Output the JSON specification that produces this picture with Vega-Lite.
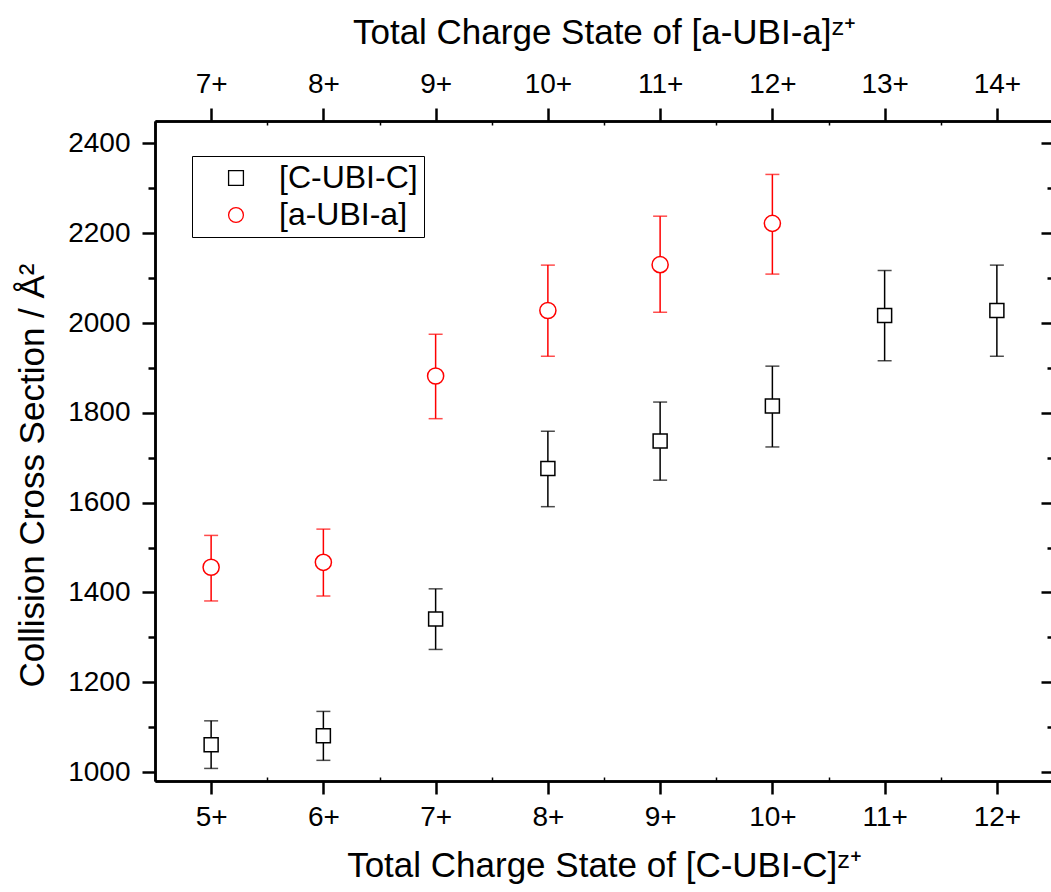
{
  "$schema": "https://vega.github.io/schema/vega-lite/v6.json",
  "width": 898,
  "height": 660,
  "autosize": "none",
  "padding": {"left": 155, "top": 121, "right": 0, "bottom": 111},
  "background": "white",
  "data": {
    "values": [
      {"series": "[C-UBI-C]", "z": 5, "ccs": 1061, "lo": 1008, "hi": 1114},
      {"series": "[C-UBI-C]", "z": 6, "ccs": 1081, "lo": 1026, "hi": 1135},
      {"series": "[C-UBI-C]", "z": 7, "ccs": 1341, "lo": 1273, "hi": 1408},
      {"series": "[C-UBI-C]", "z": 8, "ccs": 1676, "lo": 1591, "hi": 1759},
      {"series": "[C-UBI-C]", "z": 9, "ccs": 1737, "lo": 1650, "hi": 1824},
      {"series": "[C-UBI-C]", "z": 10, "ccs": 1815, "lo": 1724, "hi": 1904},
      {"series": "[C-UBI-C]", "z": 11, "ccs": 2017, "lo": 1916, "hi": 2117},
      {"series": "[C-UBI-C]", "z": 12, "ccs": 2028, "lo": 1926, "hi": 2129},
      {"series": "[a-UBI-a]", "z": 5, "ccs": 1456, "lo": 1381, "hi": 1527},
      {"series": "[a-UBI-a]", "z": 6, "ccs": 1467, "lo": 1392, "hi": 1541},
      {"series": "[a-UBI-a]", "z": 7, "ccs": 1882, "lo": 1787, "hi": 1975},
      {"series": "[a-UBI-a]", "z": 8, "ccs": 2028, "lo": 1926, "hi": 2129},
      {"series": "[a-UBI-a]", "z": 9, "ccs": 2130, "lo": 2024, "hi": 2238},
      {"series": "[a-UBI-a]", "z": 10, "ccs": 2222, "lo": 2109, "hi": 2331}
    ]
  },
  "config": {
    "font": "Liberation Sans",
    "view": {"stroke": null},
    "axis": {
      "grid": false,
      "domainColor": "black",
      "domainWidth": 2.5,
      "tickColor": "black",
      "tickWidth": 2.5,
      "labelColor": "black",
      "titleColor": "black",
      "labelFont": "Liberation Sans",
      "titleFont": "Liberation Sans",
      "labelFontWeight": "normal",
      "titleFontWeight": "normal",
      "labelFontSize": 28,
      "titleFontSize": 35
    }
  },
  "resolve": {"axis": {"x": "independent", "y": "independent"}},
  "layer": [
    {
      "mark": {"type": "rule", "strokeWidth": 1.5},
      "encoding": {
        "x": {
          "field": "z", "type": "quantitative",
          "scale": {"domain": [4.5, 12.5], "nice": false, "zero": false},
          "axis": {
            "orient": "bottom", "values": [5, 6, 7, 8, 9, 10, 11, 12],
            "labelExpr": "datum.value + '+'", "tickSize": 13, "labelPadding": 9,
            "labelFontSize": 28, "titleFontSize": 35,
            "title": "Total Charge State of [C-UBI-C]ᶻ⁺", "titlePadding": 17
          }
        },
        "y": {
          "field": "lo", "type": "quantitative",
          "scale": {"domain": [980, 2450], "nice": false, "zero": false},
          "axis": {
            "orient": "left", "values": [1000, 1200, 1400, 1600, 1800, 2000, 2200, 2400],
            "format": "d", "tickSize": 13, "labelPadding": 12,
            "labelFontSize": 28, "titleFontSize": 35,
            "title": "Collision Cross Section / Å²", "titlePadding": 17, "titleY": 354
          }
        },
        "y2": {"field": "hi"},
        "color": {"condition": {"test": "datum.series === '[a-UBI-a]'", "value": "#ff0000"}, "value": "black"}
      }
    },
    {
      "mark": {"type": "tick", "orient": "horizontal", "size": 14, "thickness": 1.5},
      "encoding": {
        "x": {
          "field": "z", "type": "quantitative",
          "scale": {"domain": [4.5, 12.5], "nice": false, "zero": false},
          "axis": {
            "orient": "top", "values": [5, 6, 7, 8, 9, 10, 11, 12],
            "labelExpr": "(datum.value + 2) + '+'", "tickSize": 13, "labelPadding": 10,
            "labelFontSize": 28, "titleFontSize": 35,
            "title": "Total Charge State of [a-UBI-a]ᶻ⁺", "titlePadding": 20
          }
        },
        "y": {
          "field": "lo", "type": "quantitative",
          "scale": {"domain": [980, 2450], "nice": false, "zero": false},
          "axis": {
            "orient": "right", "values": [1000, 1200, 1400, 1600, 1800, 2000, 2200, 2400],
            "tickSize": -12, "labels": false, "title": null
          }
        },
        "color": {"condition": {"test": "datum.series === '[a-UBI-a]'", "value": "#ff0000"}, "value": "black"}
      }
    },
    {
      "mark": {"type": "tick", "orient": "horizontal", "size": 14, "thickness": 1.5},
      "encoding": {
        "x": {
          "field": "z", "type": "quantitative",
          "scale": {"domain": [4.5, 12.5], "nice": false, "zero": false},
          "axis": {
            "orient": "bottom", "values": [5.5, 6.5, 7.5, 8.5, 9.5, 10.5, 11.5],
            "tickSize": -4, "tickWidth": 1.5, "labels": false, "title": null
          }
        },
        "y": {
          "field": "hi", "type": "quantitative",
          "scale": {"domain": [980, 2450], "nice": false, "zero": false},
          "axis": {
            "orient": "left", "values": [1100, 1300, 1500, 1700, 1900, 2100, 2300],
            "tickSize": 7, "labels": false, "title": null
          }
        },
        "color": {"condition": {"test": "datum.series === '[a-UBI-a]'", "value": "#ff0000"}, "value": "black"}
      }
    },
    {
      "mark": {"type": "point", "filled": false, "fill": "white", "fillOpacity": 1, "opacity": 1, "strokeWidth": 1.5},
      "encoding": {
        "x": {
          "field": "z", "type": "quantitative",
          "scale": {"domain": [4.5, 12.5], "nice": false, "zero": false},
          "axis": {
            "orient": "top", "values": [5.5, 6.5, 7.5, 8.5, 9.5, 10.5, 11.5],
            "tickSize": -4, "tickWidth": 1.5, "labels": false, "title": null
          }
        },
        "y": {
          "field": "ccs", "type": "quantitative",
          "scale": {"domain": [980, 2450], "nice": false, "zero": false},
          "axis": {
            "orient": "right", "values": [1100, 1300, 1500, 1700, 1900, 2100, 2300],
            "tickSize": -6, "labels": false, "title": null
          }
        },
        "color": {
          "field": "series", "type": "nominal",
          "scale": {"domain": ["[C-UBI-C]", "[a-UBI-a]"], "range": ["black", "#ff0000"]},
          "legend": {
            "title": null, "orient": "none", "legendX": 37, "legendY": 35,
            "strokeColor": "black", "fillColor": "white", "padding": 6,
            "labelFontSize": 32, "labelFont": "Liberation Sans", "labelColor": "black",
            "symbolSize": 220, "symbolStrokeWidth": 1.3, "symbolOffset": 22,
            "labelOffset": 27, "rowPadding": 5, "labelLimit": 400
          }
        },
        "shape": {
          "field": "series", "type": "nominal",
          "scale": {"domain": ["[C-UBI-C]", "[a-UBI-a]"], "range": ["square", "circle"]}
        },
        "size": {"condition": {"test": "datum.series === '[a-UBI-a]'", "value": 260}, "value": 196}
      }
    }
  ]
}
